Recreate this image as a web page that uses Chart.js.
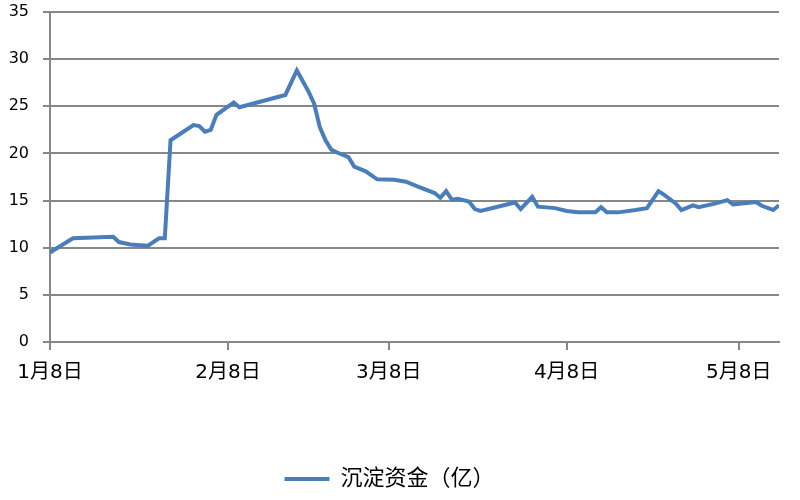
<!DOCTYPE html>
<html>
<head>
<meta charset="utf-8">
<script src="https://cdn.jsdelivr.net/npm/chart.js@4.4.1/dist/chart.umd.min.js"></script>
<style>
  html, body { margin: 0; padding: 0; background: #fff; }
  #wrap { width: 800px; height: 500px; }
</style>
</head>
<body>
<div id="wrap"><canvas id="fundChart" width="800" height="500"></canvas></div>
<script>
// days after Jan 8 for each visible vertex of the line
let dayOffsets = [0, 4, 11, 12, 14, 17, 19, 20, 21, 25, 26, 27, 28, 29, 32, 33, 41, 43, 45, 46, 47, 48, 49, 50, 52, 53, 55, 57,
    60, 62, 64, 67, 68, 69, 70, 71, 73, 74, 75, 78, 81, 82, 84, 85, 88, 90, 92, 95, 96, 97, 99, 102, 104, 106, 107, 109,
    110, 112, 113, 116, 118, 119, 123, 124, 126, 127];
let fundValues = [9.5, 11.0, 11.15, 10.6, 10.35, 10.2, 11.0, 11.0, 21.4, 23.0, 22.9, 22.3, 22.5, 24.1, 25.4, 24.9, 26.2, 28.8, 26.6, 25.3, 22.8, 21.4, 20.4, 20.1, 19.6, 18.6, 18.1, 17.25,
    17.2, 17.0, 16.5, 15.8, 15.3, 16.0, 15.1, 15.2, 14.9, 14.1, 13.9, 14.35, 14.8, 14.1, 15.4, 14.35, 14.2, 13.9, 13.75, 13.75, 14.3, 13.75, 13.75, 14.0, 14.2, 16.0, 15.6, 14.7,
    14.0, 14.5, 14.3, 14.7, 15.05, 14.6, 14.85, 14.45, 14.0, 14.5];

let tickDays = [0, 31, 59, 90, 120];
let tickLabels = ["1月8日", "2月8日", "3月8日", "4月8日", "5月8日"];
let seriesName = "沉淀资金（亿）";

let fontFamily = "'DejaVu Sans', 'Noto Sans CJK SC', sans-serif";
let gridColor = "#878787";
let lineColor = "#4a7ebb";

document.addEventListener("DOMContentLoaded", function () {
    drawChart();
});

function drawChart() {
    let ctx = document.getElementById("fundChart").getContext("2d");
    let points = dayOffsets.map((d, i) => ({ x: d, y: fundValues[i] }));

    new Chart(ctx, {
        type: "line",
        data: {
            datasets: [{
                label: seriesName,
                data: points,
                borderColor: lineColor,
                backgroundColor: lineColor,
                borderWidth: 4,
                pointRadius: 0,
                tension: 0,
                fill: false
            }]
        },
        options: {
            responsive: false,
            animation: false,
            layout: { padding: { top: 12, right: 21, left: 0, bottom: 0 } },
            plugins: {
                tooltip: { enabled: false },
                legend: {
                    position: "bottom",
                    labels: {
                        color: "#000",
                        font: { family: fontFamily, size: 22 },
                        usePointStyle: true,
                        pointStyle: "line",
                        pointStyleWidth: 45,
                        padding: 10
                    }
                }
            },
            scales: {
                x: {
                    type: "linear",
                    min: 0,
                    max: 127,
                    afterBuildTicks: scale => { scale.ticks = tickDays.map(v => ({ value: v })); },
                    afterFit: scale => { scale.height = 116; },
                    ticks: {
                        autoSkip: false,
                        maxRotation: 0,
                        padding: 11,
                        color: "#000",
                        font: { family: fontFamily, size: 20 },
                        callback: value => tickLabels[tickDays.indexOf(value)]
                    },
                    grid: { drawOnChartArea: false, drawTicks: true, tickLength: 8, color: gridColor, lineWidth: 2 },
                    border: { color: gridColor, width: 2 }
                },
                y: {
                    min: 0,
                    max: 35,
                    afterFit: scale => {
                        scale.width = 50;
                        scale.paddingTop = 0;
                        scale.paddingBottom = 0;
                    },
                    ticks: {
                        stepSize: 5,
                        padding: 14,
                        color: "#000",
                        font: { family: fontFamily, size: 16 }
                    },
                    grid: { color: gridColor, lineWidth: 2, tickLength: 7 },
                    border: { color: gridColor, width: 2 }
                }
            }
        }
    });
}
</script>
</body>
</html>
